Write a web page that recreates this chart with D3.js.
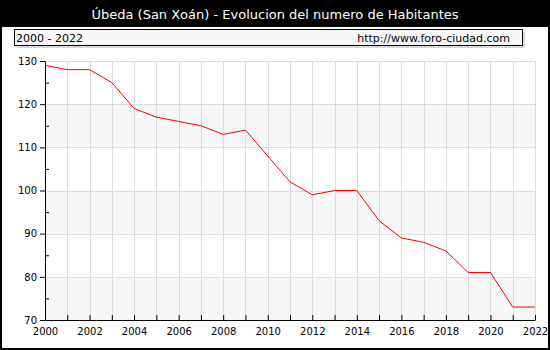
<!DOCTYPE html>
<html><head><meta charset="utf-8">
<script src="https://cdn.jsdelivr.net/npm/d3@7"></script>
<style>body{margin:0;background:#fff}svg{display:block;font-family:"DejaVu Sans",Verdana,sans-serif}</style>
</head><body>
<script>
const years = [2000,2001,2002,2003,2004,2005,2006,2007,2008,2009,2010,2011,2012,2013,2014,2015,2016,2017,2018,2019,2020,2021,2022];
const habitantes = [129,128,128,125,119,117,116,115,113,114,108,102,99,100,100,93,89,88,86,81,81,73,73];
const yTicks = [70,80,90,100,110,120,130];
const xLabelYears = [2000,2002,2004,2006,2008,2010,2012,2014,2016,2018,2020,2022];
const title = "Úbeda (San Xoán) - Evolucion del numero de Habitantes";
const period = "2000 - 2022";
const source = "http://www.foro-ciudad.com";

const W = 550, H = 350;
const svg = d3.select("body").append("svg").attr("width", W).attr("height", H);

// frame + title bar
svg.append("rect").attr("x",0).attr("y",0).attr("width",W).attr("height",27).attr("fill","#000");
svg.append("rect").attr("x",1).attr("y",1).attr("width",W-2).attr("height",H-2).attr("fill","none").attr("stroke","#000").attr("stroke-width",2);
svg.append("text").attr("x",W/2).attr("y",19).attr("text-anchor","middle").attr("fill","#fff").attr("font-size",13).text(title);

// subtitle box
svg.append("rect").attr("x",17).attr("y",32).attr("width",508).attr("height",16).attr("fill","#d8d8d8");
svg.append("rect").attr("x",14.5).attr("y",29.5).attr("width",508).attr("height",16).attr("fill","#f8f8f8").attr("stroke","#000");
svg.append("text").attr("x",16).attr("y",42).attr("font-size",11).attr("fill","#000").text(period);
svg.append("text").attr("x",510).attr("y",42).attr("text-anchor","end").attr("font-size",11).attr("fill","#000").text(source);

const x = d3.scaleLinear().domain([2000,2022]).range([45,535]);
const y = d3.scaleLinear().domain([70,130]).range([320,61]);

const g = svg.append("g");
// bands
for (let i=0;i<yTicks.length-1;i++){
  const a=yTicks[i], b=yTicks[i+1];
  if (i%2===0) g.append("rect").attr("x",x(2000)).attr("y",y(b)).attr("width",x(2022)-x(2000)).attr("height",y(a)-y(b)).attr("fill","#f7f7f7");
}
// grid
g.selectAll(".vg").data(years.slice(1)).enter().append("line")
  .attr("x1",d=>Math.round(x(d))+0.5).attr("x2",d=>Math.round(x(d))+0.5).attr("y1",y(130)).attr("y2",y(70)).attr("stroke","#dcdcdc");
g.selectAll(".hg").data(yTicks.slice(1)).enter().append("line")
  .attr("x1",x(2000)).attr("x2",x(2022)).attr("y1",d=>Math.round(y(d))+0.5).attr("y2",d=>Math.round(y(d))+0.5).attr("stroke","#dcdcdc");

// line
const line = d3.line().x((d,i)=>x(years[i])).y(d=>y(d));
g.append("path").datum(habitantes).attr("d",line).attr("fill","none").attr("stroke","#ff0000").attr("stroke-width",1);

// y axis
const yAxis = d3.axisLeft(y).tickValues(yTicks).tickSize(5).tickSizeOuter(0).tickPadding(3);
const ya = svg.append("g").attr("transform",`translate(${x(2000)},0)`).call(yAxis);
ya.select(".domain").attr("stroke","#000");
ya.selectAll("text").attr("font-size",10).attr("font-family","DejaVu Sans").attr("fill","#000");
const yMinor = d3.axisRight(y).tickValues([75,85,95,105,115,125]).tickSize(4).tickFormat("").tickSizeOuter(0);
const ym = svg.append("g").attr("transform",`translate(${x(2000)},0)`).call(yMinor);
ym.select(".domain").remove();

// x axis
const xAxis = d3.axisBottom(x).tickValues(years).tickSize(-5).tickSizeOuter(0).tickPadding(8)
  .tickFormat(d=> xLabelYears.includes(d) ? String(d) : "");
const xa = svg.append("g").attr("transform",`translate(0,${y(70)})`).call(xAxis);
xa.select(".domain").attr("stroke","#000");
xa.selectAll("text").attr("font-size",10).attr("font-family","DejaVu Sans").attr("fill","#000");
</script>
</body></html>
